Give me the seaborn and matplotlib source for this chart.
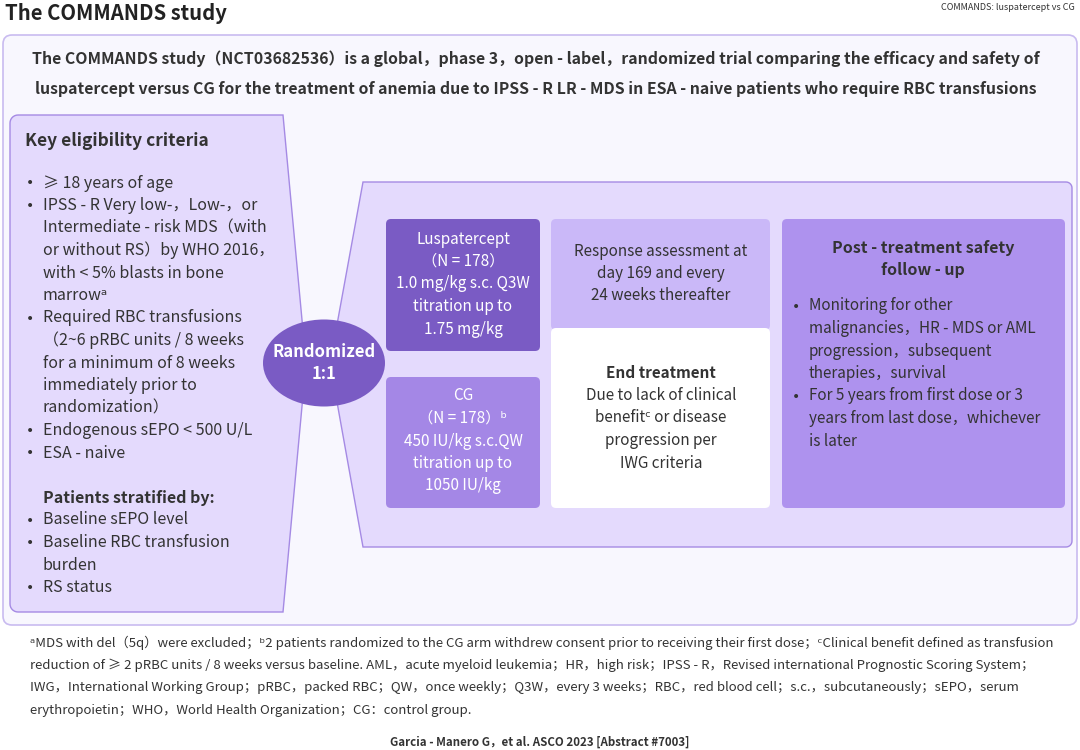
import numpy as np
import matplotlib
matplotlib.use("Agg")
import matplotlib.pyplot as plt
from matplotlib.patches import FancyBboxPatch, Polygon, Ellipse
import seaborn as sns

# ---------------- data (texts) ----------------
title = "The COMMANDS study"
corner_label = "COMMANDS: luspatercept vs CG"
intro_lines = [
    "The COMMANDS study（NCT03682536）is a global，phase 3，open - label，randomized trial comparing the efficacy and safety of",
    "luspatercept versus CG for the treatment of anemia due to IPSS - R LR - MDS in ESA - naive patients who require RBC transfusions",
]
eligibility_title = "Key eligibility criteria"
eligibility_items = [
    ["≥ 18 years of age"],
    ["IPSS - R Very low-，Low-，or", "Intermediate - risk MDS（with", "or without RS）by WHO 2016，",
     "with < 5% blasts in bone", "marrowᵃ"],
    ["Required RBC transfusions", "（2~6 pRBC units / 8 weeks", "for a minimum of 8 weeks",
     "immediately prior to", "randomization）"],
    ["Endogenous sEPO < 500 U/L"],
    ["ESA - naive"],
]
strat_title = "Patients stratified by:"
strat_items = [["Baseline sEPO level"], ["Baseline RBC transfusion", "burden"], ["RS status"]]
randomized_label = ["Randomized", "1:1"]
lusp_lines = ["Luspatercept", "（N = 178）", "1.0 mg/kg s.c. Q3W", "titration up to", "1.75 mg/kg"]
cg_lines = ["CG", "（N = 178）ᵇ", "450 IU/kg s.c.QW", "titration up to", "1050 IU/kg"]
response_lines = ["Response assessment at", "day 169 and every", "24 weeks thereafter"]
end_title = "End treatment"
end_lines = ["Due to lack of clinical", "benefitᶜ or disease", "progression per", "IWG criteria"]
post_title = ["Post - treatment safety", "follow - up"]
post_items = [
    ["Monitoring for other", "malignancies，HR - MDS or AML", "progression，subsequent", "therapies，survival"],
    ["For 5 years from first dose or 3", "years from last dose，whichever", "is later"],
]
footnote_lines = [
    "ᵃMDS with del（5q）were excluded；ᵇ2 patients randomized to the CG arm withdrew consent prior to receiving their first dose；ᶜClinical benefit defined as transfusion",
    "reduction of ≥ 2 pRBC units / 8 weeks versus baseline. AML，acute myeloid leukemia；HR，high risk；IPSS - R，Revised international Prognostic Scoring System；",
    "IWG，International Working Group；pRBC，packed RBC；QW，once weekly；Q3W，every 3 weeks；RBC，red blood cell；s.c.，subcutaneously；sEPO，serum",
    "erythropoietin；WHO，World Health Organization；CG：control group.",
]
citation = "Garcia - Manero G，et al. ASCO 2023 [Abstract #7003]"

# ---------------- style ----------------
sns.set_theme(style="white")
FAM = ["Noto Sans CJK SC", "DejaVu Sans"]
plt.rcParams["font.family"] = FAM

TXT = "#333333"
DARK = "#7a5bc4"
MID = "#a487e6"
LIGHT = "#cab8f8"
POST = "#ae92ee"
PANEL = "#e4dafd"
EDGE = "#a58ae4"
OUTER_BG = "#f8f7fe"
OUTER_EDGE = "#c9bbf0"

fig = plt.figure(figsize=(10.8, 7.5), dpi=100)
ax = fig.add_axes([0, 0, 1, 1])
ax.set_xlim(0, 1080)
ax.set_ylim(750, 0)
ax.axis("off")
fig.patch.set_facecolor("white")


def rbox(x0, y0, x1, y1, fc, ec="none", lw=1.0, r=5, z=1):
    p = FancyBboxPatch((x0, y0), x1 - x0, y1 - y0,
                       boxstyle=f"round,pad=0,rounding_size={r}",
                       fc=fc, ec=ec, lw=lw, zorder=z)
    ax.add_patch(p)


def lines_centered(lines, xc, y0, dy, size, color, weight="normal"):
    for i, s in enumerate(lines):
        ax.text(xc, y0 + i * dy, s, ha="center", va="center", fontsize=size,
                color=color, fontweight=weight, zorder=5)


def bullets(items, xb, xt, y0, dy, size, color):
    y = y0
    for item in items:
        ax.text(xb, y + 0.5, "•", ha="center", va="center", fontsize=10,
                family="DejaVu Sans", color=color, zorder=5)
        for s in item:
            ax.text(xt, y, s, ha="left", va="center", fontsize=size, color=color, zorder=5)
            y += dy
    return y


# title
ax.text(5, 13, title, ha="left", va="center", fontsize=14.6, fontweight="bold", color="#222222")
ax.text(1075, 7, corner_label, ha="right", va="center", fontsize=6.5, color="#333333")

# outer frame
rbox(3, 35, 1077, 625, OUTER_BG, OUTER_EDGE, lw=1.2, r=9, z=0)
lines_centered(intro_lines, 536, 59, 30, 11.4, TXT, "bold")

# left panel polygon with rounded left corners
r = 8
left_pts = [(10 + r, 115), (283, 115), (306, 363), (283, 612), (10 + r, 612)] + \
           [(10 + r - r * np.sin(t), 612 - r + r * np.cos(t)) for t in np.linspace(0, np.pi / 2, 8)] + \
           [(10, 115 + r)] + [(10 + r - r * np.cos(t), 115 + r - r * np.sin(t)) for t in np.linspace(0, np.pi / 2, 8)]
ax.add_patch(Polygon(left_pts, closed=True, fc=PANEL, ec=EDGE, lw=1.0, zorder=1))

# right panel polygon
rr = 6
right_pts = [(363, 182), (1072 - rr, 182)] + \
            [(1072 - rr + rr * np.sin(t), 182 + rr - rr * np.cos(t)) for t in np.linspace(0, np.pi / 2, 8)] + \
            [(1072, 547 - rr)] + \
            [(1072 - rr + rr * np.cos(t), 547 - rr + rr * np.sin(t)) for t in np.linspace(0, np.pi / 2, 8)] + \
            [(363, 547), (330, 363)]
ax.add_patch(Polygon(right_pts, closed=True, fc=PANEL, ec=EDGE, lw=1.0, zorder=1))

# ellipse
ax.add_patch(Ellipse((324, 363), 122, 87, fc=DARK, ec="none", zorder=3))
lines_centered(randomized_label, 324, 352, 22, 12, "white", "bold")

# left panel text
ax.text(25, 141, eligibility_title, ha="left", va="center", fontsize=12.5, fontweight="bold", color=TXT, zorder=5)
bullets(eligibility_items, 30, 43, 183, 22.5, 11.5, TXT)
ax.text(43, 498, strat_title, ha="left", va="center", fontsize=11.5, fontweight="bold", color=TXT, zorder=5)
bullets(strat_items, 30, 43, 520, 22.5, 11.5, TXT)

# treatment boxes
rbox(386, 219, 540, 351, DARK, z=2)
lines_centered(lusp_lines, 463, 239, 22.5, 11, "white")
rbox(386, 377, 540, 508, MID, z=2)
lines_centered(cg_lines, 463, 396, 22.5, 11, "white")

rbox(551, 219, 770, 330, LIGHT, z=2)
lines_centered(response_lines, 661, 251, 22.5, 11, TXT)
rbox(551, 328, 770, 508, "white", z=2)
ax.text(661, 373, end_title, ha="center", va="center", fontsize=11, fontweight="bold", color=TXT, zorder=5)
lines_centered(end_lines, 661, 395.5, 22.5, 11, TXT)

rbox(782, 219, 1065, 508, POST, z=2)
lines_centered(post_title, 923, 248, 22.5, 11.5, TXT, "bold")
bullets(post_items, 796, 809, 306, 22.5, 11, TXT)

# footnotes
for i, s in enumerate(footnote_lines):
    ax.text(30, 643 + i * 22.5, s, ha="left", va="center", fontsize=9.5, color=TXT, zorder=5)
ax.text(540, 742, citation, ha="center", va="center", fontsize=8.3, fontweight="bold", color=TXT)

fig.savefig("out.png", dpi=100, facecolor="white")
